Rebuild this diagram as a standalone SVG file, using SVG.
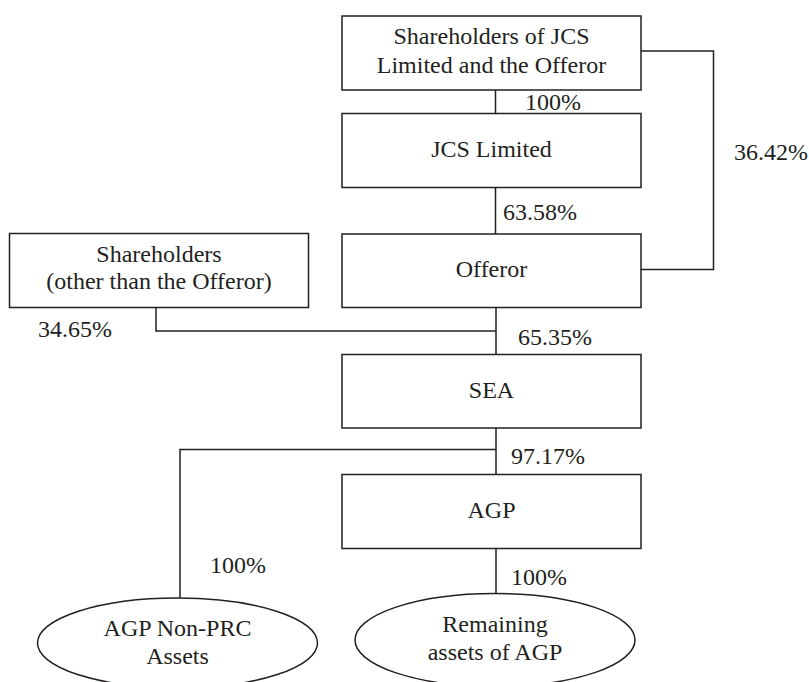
<svg xmlns="http://www.w3.org/2000/svg" width="809" height="682" viewBox="0 0 809 682" font-family="'Liberation Serif', Tinos, 'Times New Roman', Times, serif">
<style>
.box{fill:#fff;stroke:#231f20;stroke-width:1.5}
.ln{fill:none;stroke:#231f20;stroke-width:1.5}
text{font-family:'Liberation Serif',Tinos,'Times New Roman',Times,serif;font-size:24px;fill:#231f20}
.c{text-anchor:middle}
</style>
<rect width="809" height="682" fill="#fff"/>
<g id="connectors">
<polyline class="ln" points="495.5,90 495.5,113.5"/>
<polyline class="ln" points="495.5,187.5 495.5,234"/>
<polyline class="ln" points="641,51 713.5,51 713.5,269.5 641,269.5"/>
<polyline class="ln" points="496,307.5 496,354"/>
<polyline class="ln" points="156,307.5 156,331 496,331"/>
<polyline class="ln" points="496,428 496,474.5"/>
<polyline class="ln" points="496,449.5 180,449.5 180,598"/>
<polyline class="ln" points="496,548.5 496,593.5"/>
<text x="525" y="110">100%</text>
<text x="503" y="220">63.58%</text>
<text x="734" y="160">36.42%</text>
<text x="38" y="337">34.65%</text>
<text x="518" y="345">65.35%</text>
<text x="511" y="464">97.17%</text>
<text x="210" y="573">100%</text>
<text x="511" y="585">100%</text>
</g>
<g id="shareholders-jcs-offeror">
<rect class="box" x="342" y="16" width="299" height="74"/>
<text class="c" x="491.5" y="44">Shareholders of JCS</text>
<text class="c" x="491.5" y="73">Limited and the Offeror</text>
</g>
<g id="jcs-limited">
<rect class="box" x="342" y="113.5" width="299" height="74"/>
<text class="c" x="491.5" y="157">JCS Limited</text>
</g>
<g id="shareholders-other">
<rect class="box" x="9.5" y="233.5" width="299" height="74"/>
<text class="c" x="159" y="261.5">Shareholders</text>
<text class="c" x="159" y="289">(other than the Offeror)</text>
</g>
<g id="offeror">
<rect class="box" x="342" y="234" width="299" height="73.5"/>
<text class="c" x="491.5" y="277">Offeror</text>
</g>
<g id="sea">
<rect class="box" x="342" y="354.5" width="299" height="73.5"/>
<text class="c" x="491.5" y="398">SEA</text>
</g>
<g id="agp">
<rect class="box" x="342" y="474.5" width="299" height="74"/>
<text class="c" x="491.5" y="518">AGP</text>
</g>
<g id="agp-non-prc">
<ellipse class="box" cx="177.5" cy="643" rx="140" ry="45"/>
<text class="c" x="177.5" y="636">AGP Non-PRC</text>
<text class="c" x="177.5" y="664">Assets</text>
</g>
<g id="remaining-assets">
<ellipse class="box" cx="495" cy="640" rx="140" ry="46.5"/>
<text class="c" x="495" y="631.5">Remaining</text>
<text class="c" x="495" y="660">assets of AGP</text>
</g>
</svg>
